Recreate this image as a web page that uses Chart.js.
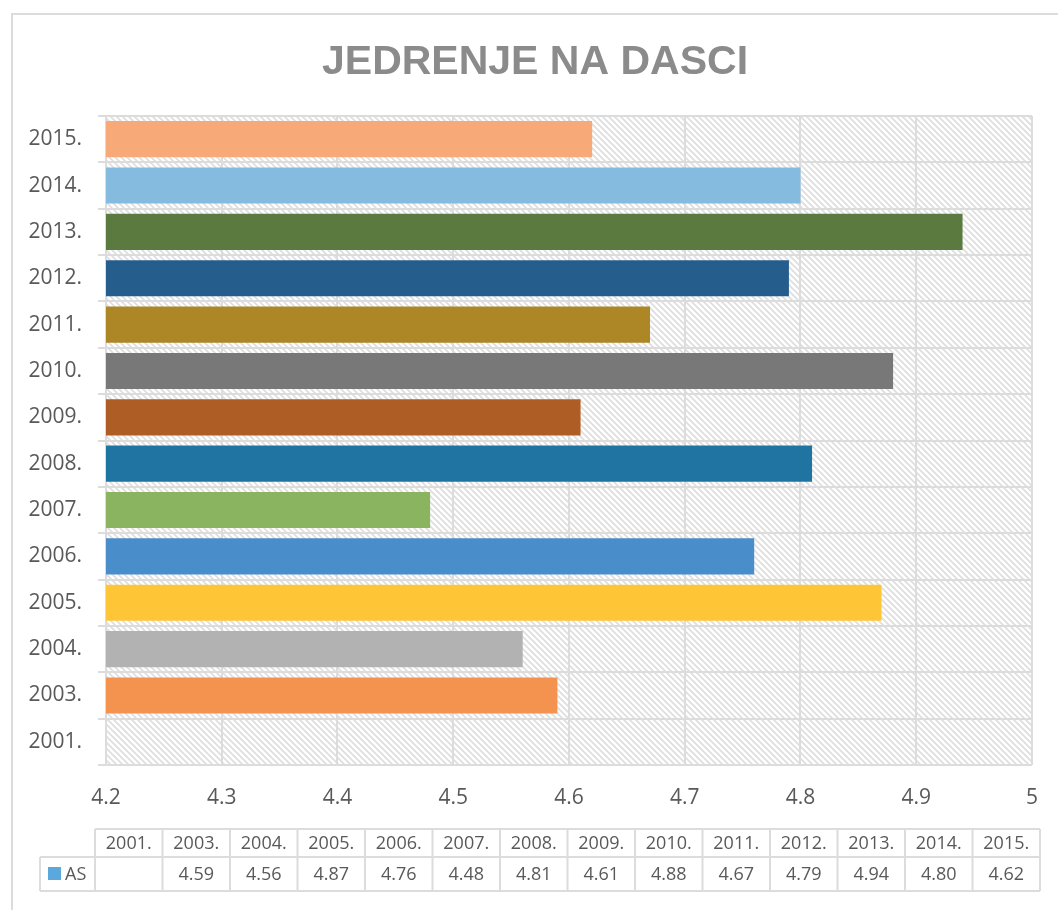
<!DOCTYPE html>
<html>
<head>
<meta charset="utf-8">
<script src="https://cdn.jsdelivr.net/npm/chart.js@4.4.1/dist/chart.umd.min.js"></script>
<style>
  html, body { margin: 0; padding: 0; background: #fff; }
  #wrap { width: 1058px; height: 910px; position: relative; }
</style>
</head>
<body>
<div id="wrap"><canvas id="chart" width="1058" height="910"></canvas></div>
<script>
const chartTitle = 'JEDRENJE NA DASCI';
const years      = ['2001.', '2003.', '2004.', '2005.', '2006.', '2007.', '2008.', '2009.', '2010.', '2011.', '2012.', '2013.', '2014.', '2015.'];
const asValues   = [null, 4.59, 4.56, 4.87, 4.76, 4.48, 4.81, 4.61, 4.88, 4.67, 4.79, 4.94, 4.80, 4.62];
const xTicks     = [4.2, 4.3, 4.4, 4.5, 4.6, 4.7, 4.8, 4.9, 5];
const seriesName = 'AS';
const barColors  = ['#ffffff', '#f4924f', '#b2b2b2', '#fec536', '#4a8dcb', '#8ab460', '#1f74a2', '#ae5e25',
                    '#787878', '#ad8626', '#255e8c', '#5a7a3f', '#86bbe0', '#f8a978'];

const GRID = '#dcdcdc';
const TEXT = '#595959';
const FONT = '"Open Sans", "Noto Sans", sans-serif';

function hatchPattern(ctx) {
    const c = document.createElement('canvas');
    c.width = 6; c.height = 6;
    const p = c.getContext('2d');
    p.fillStyle = '#ffffff';
    p.fillRect(0, 0, 6, 6);
    p.strokeStyle = '#dedede';
    p.lineWidth = 1.7;
    p.beginPath();
    p.moveTo(-1, -1); p.lineTo(7, 7);
    p.moveTo(-4, 2); p.lineTo(4, 10);
    p.moveTo(2, -4); p.lineTo(10, 4);
    p.stroke();
    return ctx.createPattern(c, 'repeat');
}

// outer frame, title and hatched plot background
const frame = {
    id: 'frame',
    beforeDraw(chart) {
        const { ctx, chartArea: a } = chart;
        ctx.save();
        ctx.strokeStyle = GRID;
        ctx.lineWidth = 2;
        ctx.strokeRect(12, 14, 1200, 1000);
        ctx.fillStyle = hatchPattern(ctx);
        ctx.fillRect(a.left, a.top, a.right - a.left, a.bottom - a.top);
        ctx.fillStyle = '#8b8b8b';
        ctx.font = 'bold 41px "Liberation Sans", Arial, sans-serif';
        ctx.textAlign = 'center';
        ctx.textBaseline = 'alphabetic';
        ctx.fillText(chartTitle, 535, 74);
        ctx.restore();
    }
};

const dataTable = {
    id: 'dataTable',
    afterDraw(chart) {
        const ctx = chart.ctx;
        const left = 95, right = 1040, top = 829, mid = 857, bottom = 891, legLeft = 40;
        const colW = (right - left) / years.length;
        ctx.save();
        ctx.strokeStyle = GRID;
        ctx.lineWidth = 2;
        ctx.beginPath();
        ctx.moveTo(left, top); ctx.lineTo(right, top);
        ctx.moveTo(legLeft, mid); ctx.lineTo(right, mid);
        ctx.moveTo(legLeft, bottom); ctx.lineTo(right, bottom);
        ctx.moveTo(legLeft, mid); ctx.lineTo(legLeft, bottom);
        for (let i = 0; i <= years.length; i++) {
            const x = left + i * colW;
            ctx.moveTo(x, top); ctx.lineTo(x, bottom);
        }
        ctx.stroke();

        ctx.fillStyle = TEXT;
        ctx.font = '18px ' + FONT;
        ctx.textAlign = 'center';
        ctx.textBaseline = 'middle';
        years.forEach((y, i) => {
            const cx = left + (i + 0.5) * colW;
            ctx.fillText(y, cx, (top + mid) / 2 + 1);
            if (asValues[i] !== null) ctx.fillText(asValues[i].toFixed(2), cx, (mid + bottom) / 2 + 1);
        });

        ctx.fillStyle = '#5ba9dc';
        ctx.fillRect(48, 867, 13, 13);
        ctx.fillStyle = TEXT;
        ctx.textAlign = 'left';
        ctx.fillText(seriesName, 65, (mid + bottom) / 2 + 1);
        ctx.restore();
    }
};

new Chart(document.getElementById('chart'), {
    type: 'bar',
    data: {
        labels: years,
        datasets: [{ label: seriesName, data: asValues, backgroundColor: barColors, barPercentage: 0.78, categoryPercentage: 1 }]
    },
    options: {
        indexAxis: 'y',
        responsive: false,
        animation: false,
        layout: { padding: { left: 0, right: 20, top: 116, bottom: 0 } },
        plugins: {
            legend: { display: false },
            tooltip: { enabled: false },
            title: { display: false }
        },
        scales: {
            x: {
                type: 'linear',
                min: 4.2, max: 5,
                afterBuildTicks: s => { s.ticks = xTicks.map(v => ({ value: v })); },
                afterFit: s => { s.height = 145; },
                ticks: { color: TEXT, font: { family: FONT, size: 21 }, padding: 20, callback: v => String(v) },
                grid: { color: GRID, lineWidth: 2, drawTicks: false },
                border: { display: false }
            },
            y: {
                reverse: true,
                afterFit: s => { s.width = 106; },
                ticks: { color: TEXT, font: { family: FONT, size: 21 }, padding: 16 },
                grid: { color: GRID, lineWidth: 2, tickLength: 8, offset: true },
                border: { display: false }
            }
        }
    },
    plugins: [frame, dataTable]
});
</script>
</body>
</html>
